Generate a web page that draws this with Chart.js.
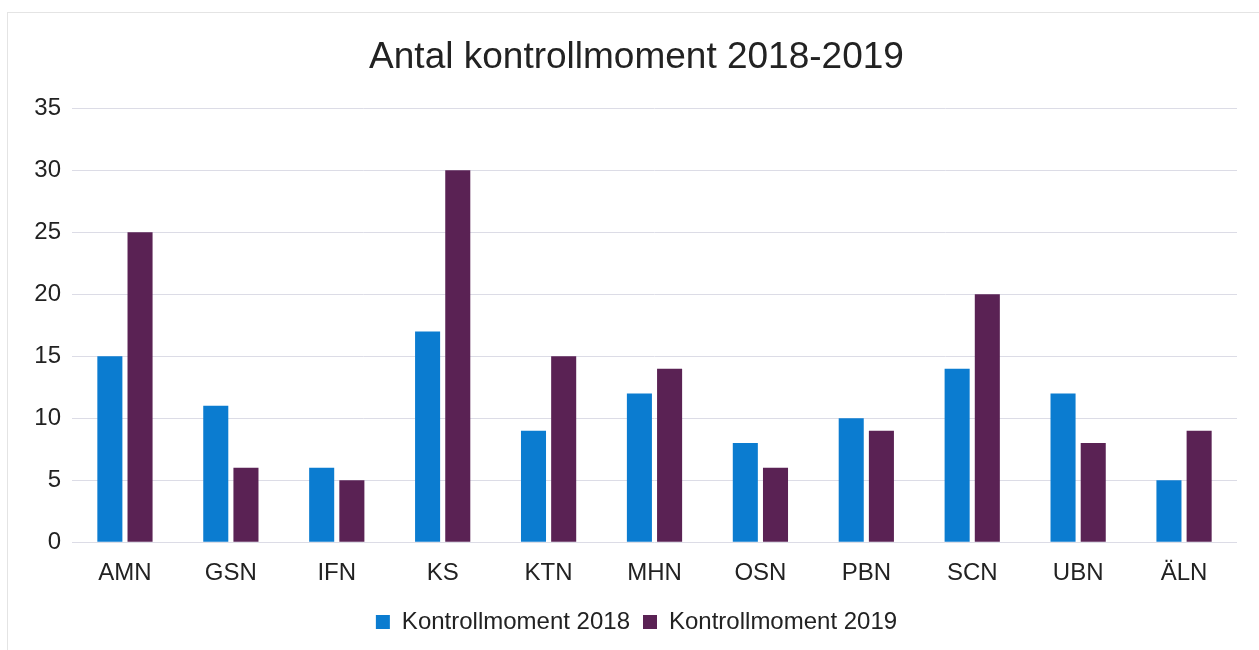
<!DOCTYPE html>
<html>
<head>
<meta charset="utf-8">
<script src="https://cdn.jsdelivr.net/npm/chart.js@4"></script>
<style>
    body { margin: 0; background: #fff; }
    .frame { position: absolute; left: 7px; top: 12px; width: 1252px; height: 638px; border-top: 1px solid #e4e4e4; border-left: 1px solid #e4e4e4; }
    .chartBox { position: absolute; left: 0; top: 0; width: 1259px; height: 650px; }
</style>
</head>
<body>
<div class="frame"></div>
<div class="chartBox"><canvas id="chart"></canvas></div>
<script>

const categories = ["AMN", "GSN", "IFN", "KS", "KTN", "MHN", "OSN", "PBN", "SCN", "UBN", "ÄLN"];
const values2018 = [15, 11, 6, 17, 9, 12, 8, 10, 14, 12, 5];
const values2019 = [25, 6, 5, 30, 15, 14, 6, 9, 20, 8, 9];
const yTicks = [0, 5, 10, 15, 20, 25, 30, 35];

const fontFamily = "'Liberation Sans', Arial, sans-serif";

const chart = new Chart(document.getElementById("chart"), {
    type: "bar",
    data: {
        labels: categories,
        datasets: [{
            label: "Kontrollmoment 2018",
            data: values2018,
            backgroundColor: "#0b7cd0",
            categoryPercentage: 0.57,
            barPercentage: 0.83
        }, {
            label: "Kontrollmoment 2019",
            data: values2019,
            backgroundColor: "#5a2254",
            categoryPercentage: 0.57,
            barPercentage: 0.83
        }]
    },
    options: {
        responsive: true,
        maintainAspectRatio: false,
        animation: false,
        layout: {
            padding: { left: 14, right: 0, top: 0, bottom: 6 }
        },
        plugins: {
            title: {
                display: true,
                text: "Antal kontrollmoment 2018-2019",
                color: "#222",
                font: { family: fontFamily, size: 37, weight: "normal" },
                padding: { top: 36, bottom: 28 }
            },
            legend: {
                position: "bottom",
                labels: {
                    color: "#222",
                    font: { family: fontFamily, size: 24 },
                    boxWidth: 14,
                    boxHeight: 14,
                    padding: 13
                }
            },
            tooltip: { enabled: false }
        },
        scales: {
            x: {
                grid: { display: false },
                border: { display: false },
                ticks: {
                    color: "#222",
                    font: { family: fontFamily, size: 24 },
                    padding: 9
                }
            },
            y: {
                min: 0,
                max: 35,
                afterFit: (scale) => { scale.width = 58; },
                afterBuildTicks: (scale) => {
                    scale.ticks = yTicks.map((v) => ({ value: v }));
                },
                grid: { color: "#dcdce6", lineWidth: 1, drawTicks: false },
                border: { display: false },
                ticks: {
                    color: "#222",
                    font: { family: fontFamily, size: 24 },
                    padding: 11
                }
            },
            // empty right axis, keeps the plot off the right edge
            yRight: {
                position: "right",
                min: 0,
                max: 35,
                afterFit: (scale) => { scale.width = 22; },
                grid: { display: false },
                border: { display: false },
                ticks: { display: false }
            }
        }
    }
});

</script>
</body>
</html>
